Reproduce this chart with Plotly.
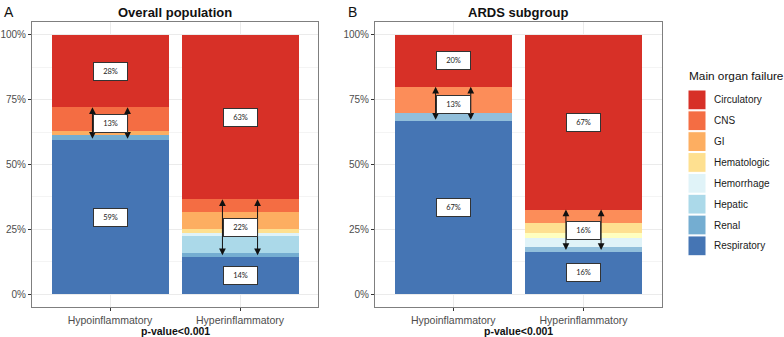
import plotly.graph_objects as go

# ---------------- data ----------------
categories = ["Circulatory", "CNS", "GI", "Hematologic", "Hemorrhage", "Hepatic", "Renal", "Respiratory"]
groups = ["Hypoinflammatory", "Hyperinflammatory"]

# percentages per category (same order as categories)
overall_hypo = [27.9, 9.3, 1.5, 0.0, 0.0, 0.0, 1.9, 59.4]
overall_hyper = [63.4, 5.0, 6.6, 1.3, 1.2, 6.8, 1.3, 14.4]
ards_hypo = [20.0, 10.0, 0.0, 0.0, 0.0, 0.0, 3.3, 66.7]
ards_hyper = [67.4, 5.3, 3.6, 1.9, 3.6, 0.0, 1.8, 16.4]

colors_overall = ["#d73027", "#f46d43", "#fdae61", "#fee090", "#e0f3f8", "#abd9e9", "#74add1", "#4575b4"]
colors_ards = ["#d73027", "#fc8d59", "#fee090", "#ffffbf", "#e0f3f8", "#abd9e9", "#91bfdb", "#4575b4"]

panel_titles = ["Overall population", "ARDS subgroup"]
panel_letters = ["A", "B"]
pvalue_text = ["p-value<0.001", "p-value<0.001"]
y_ticks = [0, 25, 50, 75, 100]
y_ticklabels = ["0%", "25%", "50%", "75%", "100%"]

# ---------------- layout helpers ----------------
W, H = 784, 337
def px_x(p):
    return p / W
def px_y(p):
    return 1 - p / H

panels = [
    dict(data=(overall_hypo, overall_hyper), colors=colors_overall, xa="x", ya="y",
         dom=[px_x(32), px_x(318)]),
    dict(data=(ards_hypo, ards_hyper), colors=colors_ards, xa="x2", ya="y2",
         dom=[px_x(375), px_x(661.7)]),
]
ydom = [px_y(307), px_y(22)]

fig = go.Figure()
annotations = []
shapes = []

for pi, pnl in enumerate(panels):
    hypo, hyper = pnl["data"]
    # stack from bottom (Respiratory) to top (Circulatory)
    for i in reversed(range(len(categories))):
        fig.add_trace(go.Bar(
            x=[0, 1], y=[hypo[i], hyper[i]], width=0.9,
            marker=dict(color=pnl["colors"][i], line=dict(width=0)),
            name=categories[i], showlegend=False,
            xaxis=pnl["xa"], yaxis=pnl["ya"], hoverinfo="skip",
        ))
    # labels and arrows
    for gi, vals in enumerate((hypo, hyper)):
        circ = vals[0]
        resp = vals[-1]
        mid = 100 - circ - resp
        top_mid = 100 - circ
        centers = [(100 - circ / 2, circ), (resp + mid / 2, mid), (resp / 2, resp)]
        for dx in (-0.135, 0.135):
            annotations.append(dict(
                x=gi + dx, y=top_mid, ax=gi + dx, ay=resp,
                xref=pnl["xa"], yref=pnl["ya"], axref=pnl["xa"], ayref=pnl["ya"],
                text="", showarrow=True, arrowhead=2, startarrowhead=2,
                arrowside="end+start", arrowsize=1.35, startarrowsize=1.35,
                arrowwidth=1, arrowcolor="#111111", standoff=0, startstandoff=0,
            ))
        for yc, v in centers:
            annotations.append(dict(
                x=gi, y=yc, xref=pnl["xa"], yref=pnl["ya"],
                text=f"{round(v)}%", showarrow=False,
                bgcolor="white", bordercolor="#333333", borderwidth=1, borderpad=2,
                width=29, height=13,
                font=dict(family="Lato, Open Sans, sans-serif", size=7.5, color="#222222"),
            ))
    cx = (pnl["dom"][0] + pnl["dom"][1]) / 2
    # panel title
    annotations.append(dict(
        x=cx, y=px_y(12), xref="paper", yref="paper", text=f"<b>{panel_titles[pi]}</b>",
        showarrow=False, xanchor="center", yanchor="middle",
        font=dict(family="Liberation Sans, Arial, sans-serif", size=13, color="#111111"),
    ))
    # panel letter
    lx = [2, 346][pi]
    annotations.append(dict(
        x=px_x(lx), y=px_y(12), xref="paper", yref="paper", text=panel_letters[pi],
        showarrow=False, xanchor="left", yanchor="middle",
        font=dict(family="Liberation Sans, Arial, sans-serif", size=14, color="#111111"),
    ))
    # p-value
    annotations.append(dict(
        x=cx, y=px_y(330.5), xref="paper", yref="paper", text=f"<b>{pvalue_text[pi]}</b>",
        showarrow=False, xanchor="center", yanchor="middle",
        font=dict(family="Liberation Sans, Arial, sans-serif", size=10.5, color="#111111"),
    ))

# legend (custom, ggplot-like keys)
leg_x0, leg_x1 = 688, 706
annotations.append(dict(
    x=px_x(687), y=px_y(76), xref="paper", yref="paper", text="Main organ failure",
    showarrow=False, xanchor="left", yanchor="middle",
    font=dict(family="Liberation Sans, Arial, sans-serif", size=11.8, color="#111111"),
))
for i, cat in enumerate(categories):
    y0 = 89.5 + i * 20.85
    shapes.append(dict(
        type="rect", xref="paper", yref="paper",
        x0=px_x(leg_x0), x1=px_x(leg_x1), y0=px_y(y0 + 20.3), y1=px_y(y0 + 0.5),
        fillcolor=colors_overall[i], line=dict(color="white", width=1),
    ))
    annotations.append(dict(
        x=px_x(712), y=px_y(y0 + 10.4), xref="paper", yref="paper", text=cat,
        showarrow=False, xanchor="left", yanchor="middle",
        font=dict(family="Liberation Sans, Arial, sans-serif", size=10, color="#1a1a1a"),
    ))

axis_common_x = dict(
    range=[-0.6, 1.6], tickvals=[0, 1], ticktext=groups,
    showgrid=True, gridcolor="#ebebeb", gridwidth=1, zeroline=False,
    showline=True, linecolor="#7f7f7f", linewidth=1, mirror=True,
    ticks="outside", ticklen=3, tickcolor="#333333",
    tickfont=dict(family="Liberation Sans, Arial, sans-serif", size=10.5, color="#4d4d4d"),
    fixedrange=True,
)
axis_common_y = dict(
    range=[-5, 105], tickvals=y_ticks, ticktext=y_ticklabels,
    showgrid=True, gridcolor="#ebebeb", gridwidth=1, zeroline=False,
    minor=dict(tickvals=[12.5, 37.5, 62.5, 87.5], showgrid=True, gridcolor="#f4f4f4", ticks=""),
    showline=True, linecolor="#7f7f7f", linewidth=1, mirror=True,
    ticks="outside", ticklen=3, tickcolor="#333333",
    tickfont=dict(family="Liberation Sans, Arial, sans-serif", size=10, color="#4d4d4d"),
    fixedrange=True, domain=ydom,
)

fig.update_layout(
    width=W, height=H, margin=dict(l=0, r=0, t=0, b=0),
    paper_bgcolor="white", plot_bgcolor="white",
    barmode="stack", bargap=0,
    showlegend=False,
    xaxis=dict(axis_common_x, domain=panels[0]["dom"], anchor="y"),
    yaxis=dict(axis_common_y, anchor="x"),
    xaxis2=dict(axis_common_x, domain=panels[1]["dom"], anchor="y2"),
    yaxis2=dict(axis_common_y, anchor="x2"),
    annotations=annotations, shapes=shapes,
)

fig.write_html(
    "out.html",
    config={"displayModeBar": False},
    post_script="document.body.style.margin='0';document.body.style.padding='0';",
)
